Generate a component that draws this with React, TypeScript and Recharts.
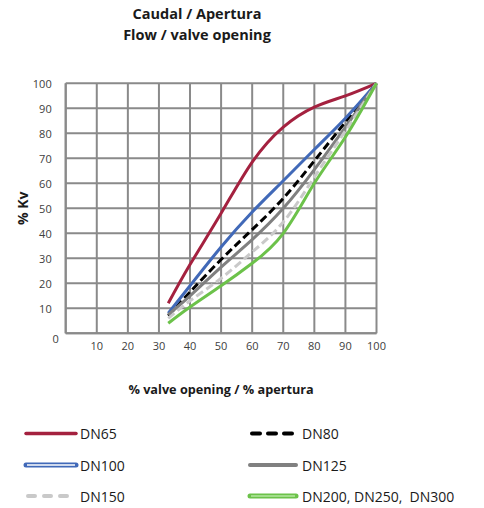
import React from 'react';
import { LineChart, Line, XAxis, YAxis, CartesianGrid, Label } from 'recharts';

const openings = [33, 40, 50, 60, 70, 80, 90, 100];
const dn65 = [12, 27.5, 48, 68.5, 82.5, 90.5, 95, 100];
const dn80 = [7, 16.5, 29.5, 41.5, 54, 69, 84.5, 100];
const dn100 = [8, 19, 34.5, 48.5, 61, 73.5, 86, 100];
const dn125 = [7.5, 15, 26.5, 37.5, 50, 65.5, 82.5, 100];
const dn150 = [6, 13, 22, 32.5, 44.5, 62.5, 81, 100];
const dn200 = [4, 10.5, 19, 28, 40, 60, 78.5, 100];

const seriesNames = ['DN65', 'DN80', 'DN100', 'DN125', 'DN150', 'DN200, DN250,  DN300'];
const seriesKeys = ['dn65', 'dn80', 'dn100', 'dn125', 'dn150', 'dn200'];
const seriesValues = [dn65, dn80, dn100, dn125, dn150, dn200];

const xTicks = [10, 20, 30, 40, 50, 60, 70, 80, 90, 100];
const yTicks = [0, 10, 20, 30, 40, 50, 60, 70, 80, 90, 100];

const titleLines = ['Caudal / Apertura', 'Flow / valve opening'];
const xLabel = '% valve opening / % apertura';
const yLabel = '% Kv';

const data = openings.map((x, i) => {
  const row: any = { x };
  seriesKeys.forEach((k, j) => {
    row[k] = seriesValues[j][i];
  });
  return row;
});

const styles: any = {
  dn65: { color: '#a4213f', width: 3, dash: undefined },
  dn80: { color: '#000000', width: 3, dash: '8 4' },
  dn100: { color: '#4169b8', width: 3, dash: undefined },
  dn125: { color: '#808080', width: 3, dash: undefined },
  dn150: { color: '#c9c9c9', width: 3, dash: '8 4' },
  dn200: { color: '#6cc24a', width: 3, dash: undefined },
};

const FONT = '"Open Sans", sans-serif';
const GRID = '#8a8a8a';

const YTick = (props: any) => {
  const { x, y, payload } = props;
  const isZero = payload.value === 0;
  return (
    <text
      x={x + (isZero ? 7 : 0)}
      y={y + (isZero ? 5 : 0)}
      textAnchor="end"
      dominantBaseline="central"
      fontSize={11}
      fontFamily={FONT}
      fill="#404040"
    >
      {payload.value}
    </text>
  );
};

const legendLayout = [
  { col: 0, row: 0 },
  { col: 1, row: 0 },
  { col: 0, row: 1 },
  { col: 1, row: 1 },
  { col: 0, row: 2 },
  { col: 1, row: 2 },
];

const renderIcon = (key: string, x0: number, x1: number, y: number) => {
  const s = styles[key];
  if (key === 'dn100') {
    return (
      <g>
        <line x1={x0} x2={x1} y1={y} y2={y} stroke={s.color} strokeWidth={5} strokeLinecap="round" />
        <line x1={x0 + 1} x2={x1 - 1} y1={y} y2={y} stroke="#ffffff" strokeWidth={1.3} />
      </g>
    );
  }
  if (key === 'dn200') {
    return (
      <g>
        <line x1={x0} x2={x1} y1={y} y2={y} stroke={s.color} strokeWidth={5} strokeLinecap="round" />
        <line x1={x0 + 1} x2={x1 - 1} y1={y} y2={y} stroke="#b5e6a0" strokeWidth={1.3} />
      </g>
    );
  }
  if (key === 'dn80') {
    return (
      <line x1={x0 + 2} x2={x1} y1={y} y2={y} stroke={s.color} strokeWidth={4} strokeLinecap="round" strokeDasharray="8 8" />
    );
  }
  if (key === 'dn150') {
    return (
      <line x1={x0 + 2} x2={x1} y1={y} y2={y} stroke={s.color} strokeWidth={4} strokeLinecap="round" strokeDasharray="7 9" />
    );
  }
  return <line x1={x0} x2={x1} y1={y} y2={y} stroke={s.color} strokeWidth={key === 'dn65' ? 3.5 : 4} strokeLinecap="round" />;
};

const ChartLegend = () => {
  const colIcon = [26, 250];
  const colIconEnd = [76, 296];
  const colText = [80, 302];
  const rowY = [15.5, 47, 78];
  return (
    <svg width={484} height={90} style={{ position: 'absolute', left: 0, top: 418, display: 'block' }}>
      {seriesKeys.map((k, i) => {
        const { col, row } = legendLayout[i];
        const y = rowY[row];
        return (
          <g key={k}>
            {renderIcon(k, colIcon[col], colIconEnd[col], y)}
            <text x={colText[col]} y={y} dominantBaseline="central" fontSize={14} fontFamily={FONT} fill="#1a1a1a" style={{ whiteSpace: 'pre' }}>
              {seriesNames[i]}
            </text>
          </g>
        );
      })}
    </svg>
  );
};

export default function App() {
  return (
    <div style={{ position: 'absolute', left: 0, top: 0, width: 484, height: 508, background: '#ffffff', overflow: 'hidden' }}>
      <svg width={484} height={60} style={{ position: 'absolute', left: 0, top: 0 }}>
        {titleLines.map((t, i) => (
          <text key={i} x={197} y={19 + i * 21} textAnchor="middle" fontSize={14.5} fontWeight={700} fontFamily={FONT} fill="#1a1a1a">
            {t}
          </text>
        ))}
      </svg>
      <div style={{ position: 'absolute', left: 0, top: 0 }}>
        <LineChart
          width={484}
          height={508}
          data={data}
          margin={{ top: 83.3, right: 107.5, left: 5.7, bottom: 113.7 }}
        >
          <CartesianGrid stroke={GRID} strokeWidth={2} strokeDasharray="" />
          <XAxis
            dataKey="x"
            type="number"
            domain={[0, 100]}
            ticks={xTicks}
            interval={0}
            height={61}
            tickSize={6}
            tickMargin={3}
            tickLine={false}
            axisLine={{ stroke: GRID, strokeWidth: 2 }}
            tick={{ fontSize: 11, fontFamily: FONT, fill: '#404040' }}
          >
            <Label
              content={(p: any) => {
                const vb = p.viewBox;
                return (
                  <text x={vb.x + vb.width / 2} y={vb.y + 61} textAnchor="middle" fontSize={12.7} fontWeight={700} fontFamily={FONT} fill="#1a1a1a">
                    {xLabel}
                  </text>
                );
              }}
            />
          </XAxis>
          <YAxis
            type="number"
            domain={[0, 100]}
            ticks={yTicks}
            interval={0}
            width={60}
            tickSize={6}
            tickMargin={8}
            tickLine={false}
            axisLine={{ stroke: GRID, strokeWidth: 2 }}
            tick={<YTick />}
          >
            <Label
              content={(p: any) => {
                const vb = p.viewBox;
                const cx = vb.x + 17;
                const cy = vb.y + vb.height / 2;
                return (
                  <text x={cx} y={cy} transform={`rotate(-90, ${cx}, ${cy})`} textAnchor="middle" dominantBaseline="central" fontSize={14} fontWeight={700} fontFamily={FONT} fill="#1a1a1a">
                    {yLabel}
                  </text>
                );
              }}
            />
          </YAxis>
          {seriesKeys.map((k, i) => (
            <Line
              key={k}
              dataKey={k}
              name={seriesNames[i]}
              type="natural"
              stroke={styles[k].color}
              strokeWidth={styles[k].width}
              strokeDasharray={styles[k].dash}
              dot={false}
              activeDot={false}
              isAnimationActive={false}
            />
          ))}
        </LineChart>
      </div>
      <ChartLegend />
    </div>
  );
}
